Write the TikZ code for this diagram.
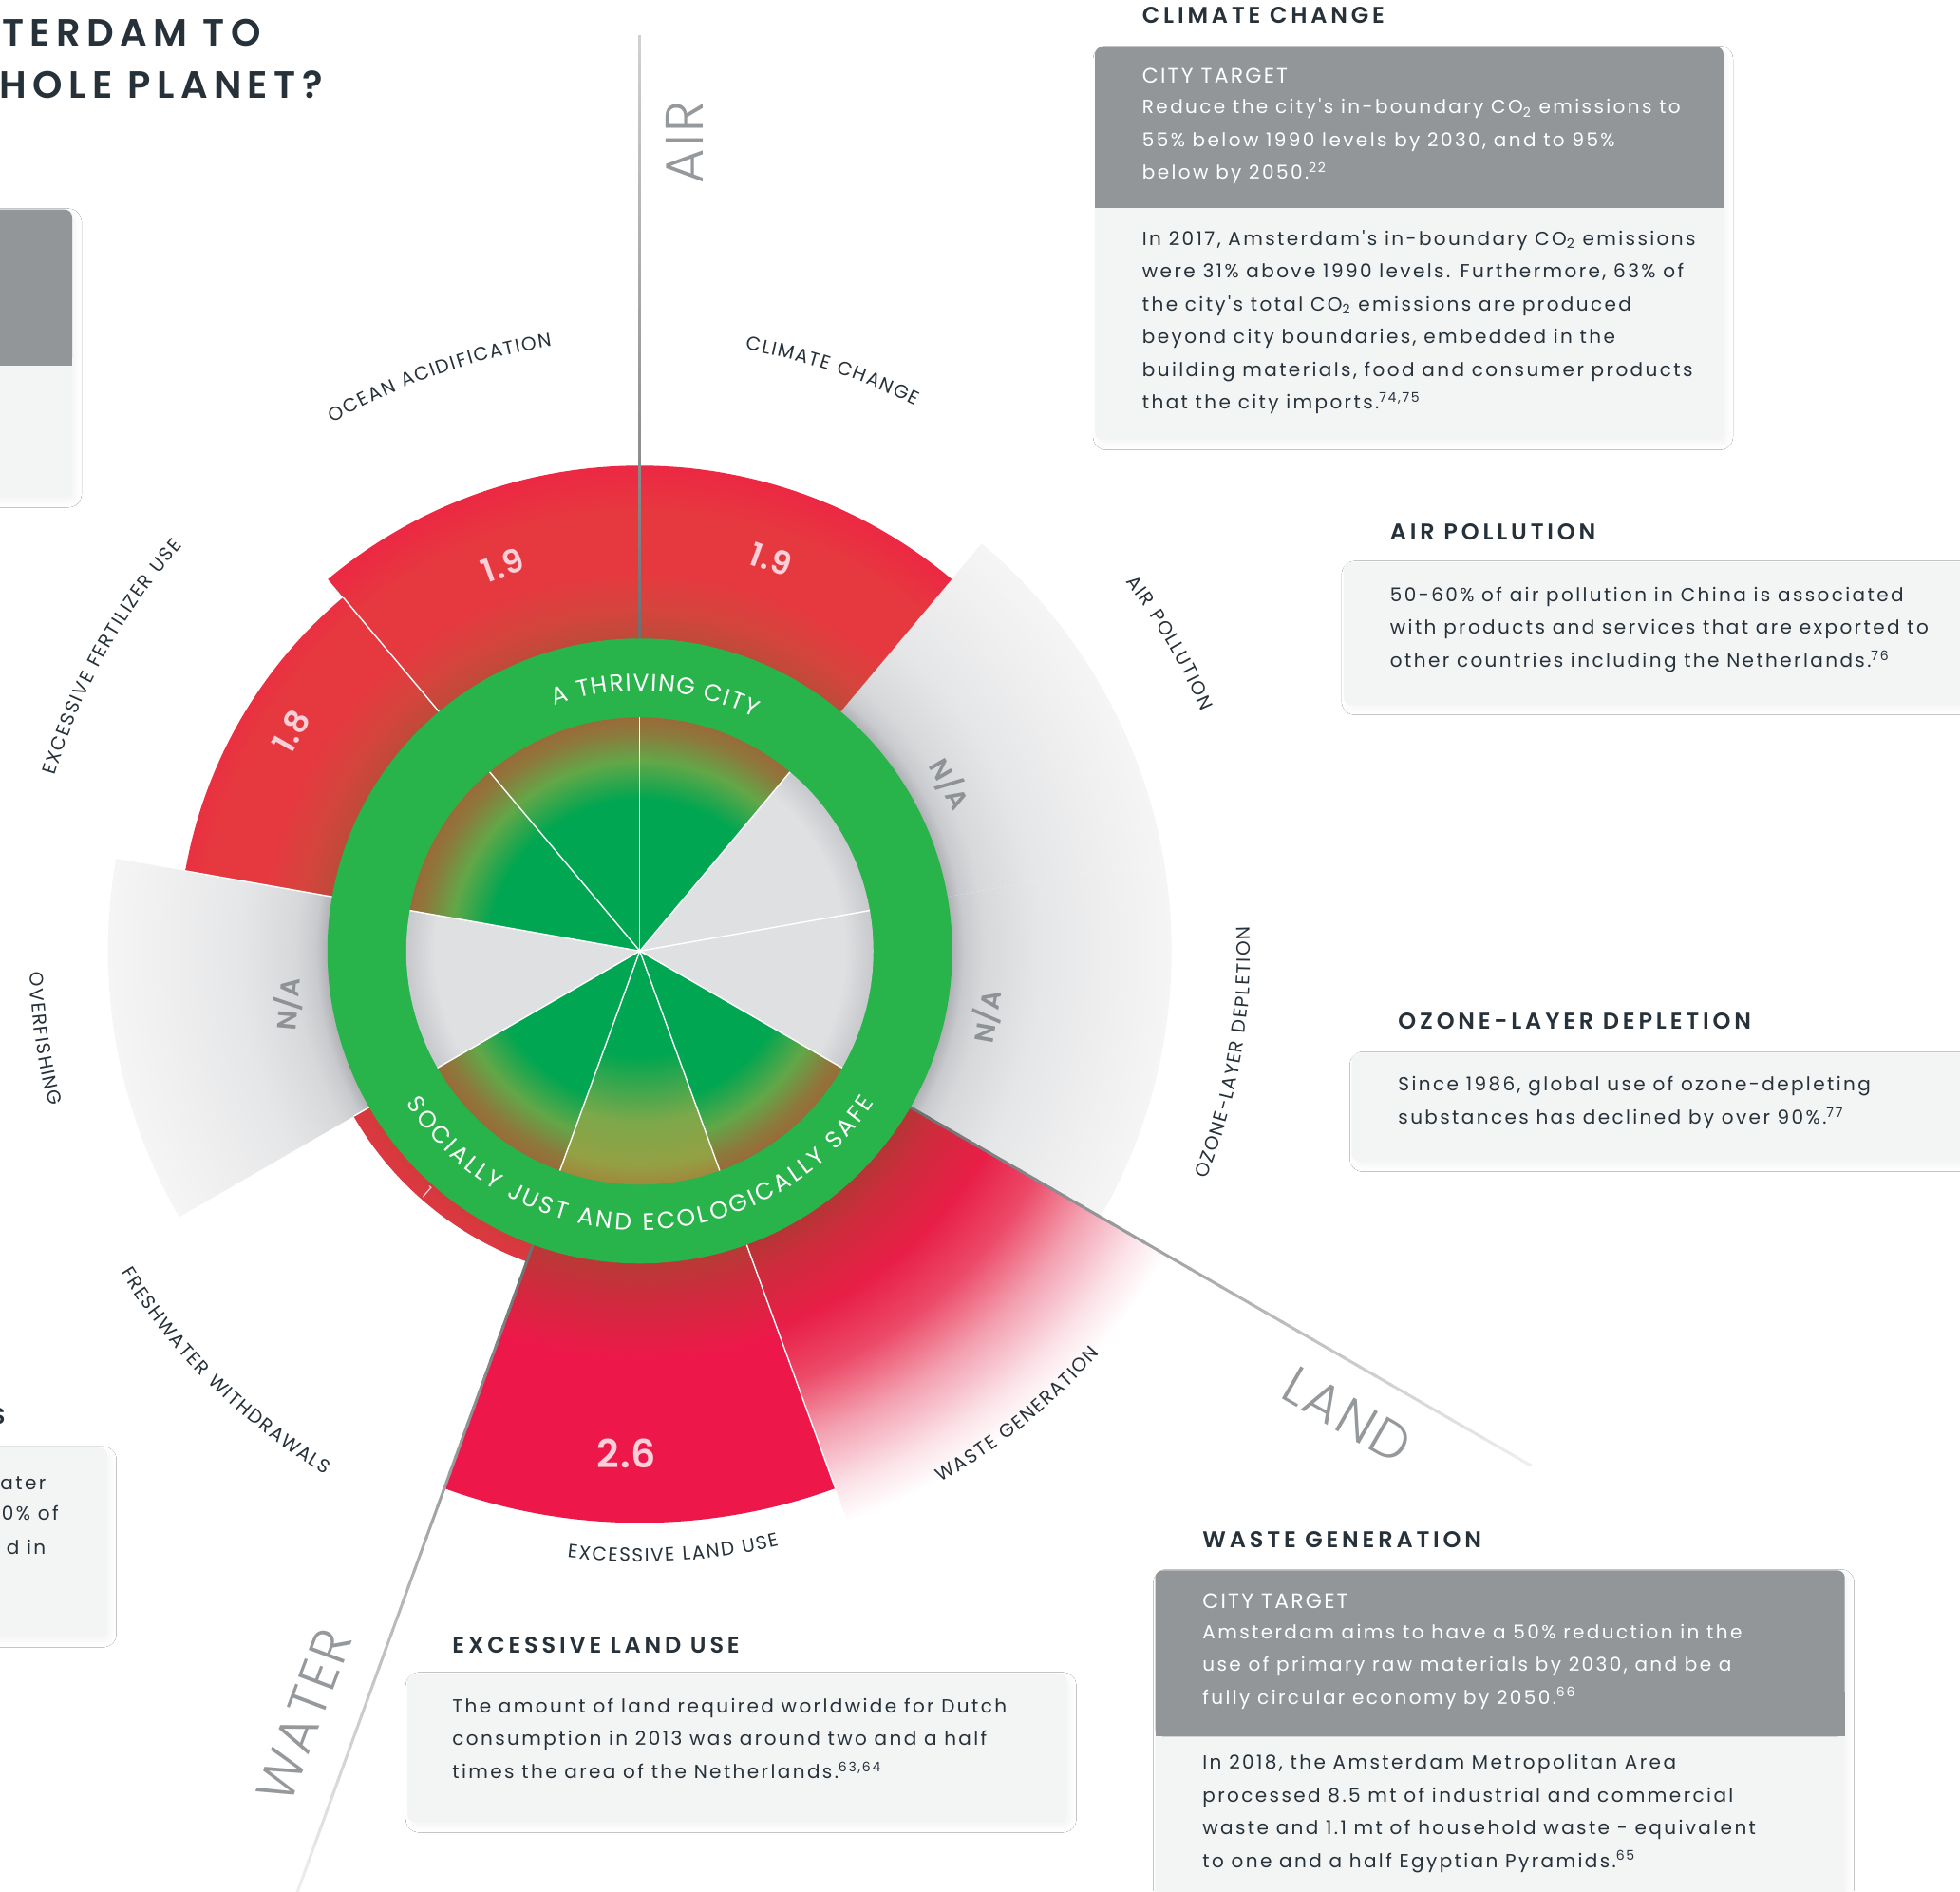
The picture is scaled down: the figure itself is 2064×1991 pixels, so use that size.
\documentclass[tikz,border=0pt]{standalone}
\usepackage{fontspec}
\usepackage{xcolor}
\usetikzlibrary{decorations.text, shadows.blur}

% fonts
\setmainfont{Poppins}
\newfontfamily\bodyfont[LetterSpace=12]{Poppins}
\newfontfamily\lblfont[LetterSpace=10]{Poppins}
\newfontfamily\arcfont{Poppins}
\IfFontExistsTF{Poppins SemiBold}{%
  \newfontfamily\headfont[LetterSpace=16]{Poppins SemiBold}%
  \newfontfamily\titlefont[LetterSpace=16]{Poppins SemiBold}%
  \newfontfamily\numfont[LetterSpace=2]{Poppins SemiBold}%
}{%
  \newfontfamily\headfont[LetterSpace=16,FakeBold=1.2]{Poppins}%
  \newfontfamily\titlefont[LetterSpace=16,FakeBold=1.2]{Poppins}%
  \newfontfamily\numfont[LetterSpace=2,FakeBold=1.2]{Poppins}%
}
\IfFontExistsTF{Poppins Light}{%
  \newfontfamily\thinfont[LetterSpace=4]{Poppins Light}%
}{%
  \newfontfamily\thinfont[LetterSpace=4]{Poppins}%
}
% letters on arcs are boxed one by one, so the tracking is a kern
\newcommand\ringsize{\arcfont\fontsize{12.5pt}{14pt}\selectfont\kern0.73pt}
\newcommand\ringwide{\arcfont\fontsize{12.5pt}{14pt}\selectfont\kern1.45pt}
\newcommand\lblsize{\arcfont\fontsize{10pt}{12pt}\selectfont\kern0.8pt}

% colours
\definecolor{inktext}{RGB}{38,49,58}
\definecolor{targetgray}{RGB}{147,150,153}
\definecolor{notegray}{RGB}{243,244,244}
\definecolor{ringgreen}{RGB}{40,179,75}
\definecolor{nagraytext}{RGB}{142,146,150}
\definecolor{pinkvalue}{RGB}{249,207,217}
\definecolor{axisgray}{RGB}{150,153,156}
\definecolor{axisdark}{RGB}{110,112,114}
\definecolor{axislight}{RGB}{210,210,210}
\definecolor{axisfade}{RGB}{240,240,240}
% red sectors
\definecolor{redA}{RGB}{190,74,58}
\definecolor{redB}{RGB}{213,68,61}
\definecolor{redC}{RGB}{230,57,63}
\definecolor{redD}{RGB}{236,40,67}
\definecolor{landA}{RGB}{184,58,54}
\definecolor{landB}{RGB}{208,42,62}
\definecolor{landC}{RGB}{237,24,73}
\definecolor{wasteA}{RGB}{181,53,53}
\definecolor{wasteB}{RGB}{206,44,60}
\definecolor{wasteC}{RGB}{232,30,71}
\definecolor{wasteD}{RGB}{236,74,104}
\definecolor{wasteE}{RGB}{243,160,176}
\definecolor{wasteF}{RGB}{251,226,232}
\definecolor{freshA}{RGB}{210,58,60}
\definecolor{freshB}{RGB}{222,55,65}
% grey sectors
\definecolor{naA}{RGB}{176,178,181}
\definecolor{naB}{RGB}{200,202,205}
\definecolor{naC}{RGB}{215,216,218}
\definecolor{naD}{RGB}{229,230,231}
\definecolor{naE}{RGB}{239,239,240}
\definecolor{naF}{RGB}{245,245,246}
\definecolor{coreGray}{RGB}{223,224,226}
\definecolor{coreGrayEdge}{RGB}{198,200,203}
% green core
\definecolor{leafgreen}{RGB}{0,166,81}
\definecolor{leafmid}{RGB}{98,167,72}
\definecolor{leafolive}{RGB}{140,122,60}
\definecolor{leafbrown}{RGB}{154,106,56}
\definecolor{landleafA}{RGB}{125,168,74}
\definecolor{landleafB}{RGB}{148,160,68}
\definecolor{landleafC}{RGB}{160,136,60}

% radial shadings, drawn on a circle of radius 700 (25bp = 700 units)
\pgfdeclareradialshading{redshade}{\pgfpoint{0bp}{0bp}}{color(0bp)=(redA); color(11.75bp)=(redA);
  color(12.85bp)=(redB); color(14.3bp)=(redC); color(16.45bp)=(redC); color(18.25bp)=(redD); color(50bp)=(redD)}
\pgfdeclareradialshading{landshade}{\pgfpoint{0bp}{0bp}}{color(0bp)=(landA); color(11.75bp)=(landA);
  color(13.2bp)=(landB); color(15.35bp)=(landC); color(50bp)=(landC)}
\pgfdeclareradialshading{wasteshade}{\pgfpoint{0bp}{0bp}}{color(0bp)=(wasteA); color(11.75bp)=(wasteA);
  color(12.85bp)=(wasteB); color(15bp)=(wasteC); color(17.15bp)=(wasteD); color(19.3bp)=(wasteE);
  color(21.45bp)=(wasteF); color(22.85bp)=(white); color(50bp)=(white)}
\pgfdeclareradialshading{freshshade}{\pgfpoint{0bp}{0bp}}{color(0bp)=(freshA); color(11.75bp)=(freshA);
  color(12.45bp)=(freshB); color(50bp)=(freshB)}
\pgfdeclareradialshading{nashade}{\pgfpoint{0bp}{0bp}}{color(0bp)=(naA); color(11.75bp)=(naA);
  color(12.2bp)=(naB); color(12.95bp)=(naC); color(15bp)=(naD); color(17.85bp)=(naE); color(20bp)=(naF); color(50bp)=(naF)}
\pgfdeclareradialshading{greenshade}{\pgfpoint{0bp}{0bp}}{color(0bp)=(leafgreen); color(5.7bp)=(leafgreen);
  color(7.15bp)=(leafmid); color(8.2bp)=(leafolive); color(8.8bp)=(leafbrown); color(50bp)=(leafbrown)}
\pgfdeclareradialshading{landgreen}{\pgfpoint{0bp}{0bp}}{color(0bp)=(leafgreen); color(3.95bp)=(leafgreen);
  color(6.45bp)=(landleafA); color(8.05bp)=(landleafB); color(8.8bp)=(landleafC); color(50bp)=(landleafC)}
\pgfdeclareradialshading{coreshade}{\pgfpoint{0bp}{0bp}}{color(0bp)=(coreGray); color(7.7bp)=(coreGray);
  color(8.8bp)=(coreGrayEdge); color(50bp)=(coreGrayEdge)}

% curved sector labels: centre angle, text
\newcommand\toparc[2]{%
  \path[decorate, decoration={text along path, text align=center, text color=inktext,
    text={|\lblsize|#2}}] (#1+60:643) arc[start angle=#1+60, end angle=#1-60, radius=643];}
\newcommand\bottomarc[2]{%
  \path[decorate, decoration={text along path, text align=center, text color=inktext,
    text={|\lblsize|#2}}] (#1-60:643) arc[start angle=#1-60, end angle=#1+60, radius=643];}

\begin{document}
\begin{tikzpicture}[x=0.5pt, y=0.5pt,
    % multi-line notes are placed by the baseline of their last line
    bodytext/.style={font=\bodyfont\fontsize{10pt}{17.25pt}\selectfont, text=inktext,
      align=left, inner sep=0pt, anchor=base west},
    targettext/.style={bodytext, text=white},
    targethead/.style={font=\lblfont\fontsize{11pt}{13pt}\selectfont, text=white,
      inner sep=0pt, anchor=base west},
    headtext/.style={font=\headfont\fontsize{12pt}{14pt}\selectfont, text=inktext,
      inner sep=0pt, anchor=base west},
    titletext/.style={font=\titlefont\fontsize{20pt}{24pt}\selectfont, text=inktext,
      inner sep=0pt, anchor=base east},
    cuttext/.style={bodytext, anchor=base east},
    notebox/.style={fill=notegray, rounded corners=4pt,
      blur shadow={shadow xshift=2pt, shadow yshift=-2.5pt, shadow blur radius=3pt, shadow opacity=4}},
    navalue/.style={font=\numfont\fontsize{14pt}{16pt}\selectfont, text=nagraytext, inner sep=0pt},
    redvalue/.style={font=\numfont\fontsize{17pt}{19pt}\selectfont, text=pinkvalue, inner sep=0pt},
    axisword/.style={font=\thinfont\fontsize{28pt}{30pt}\selectfont, text=axisgray, inner sep=0pt},
    wedgesep/.style={white, line width=0.7pt},
    spoke/.style={white, line width=0.7pt}
  ]
  \useasboundingbox (0,0) rectangle (2064,1991);
  \fill[white] (0,0) rectangle (2064,1991);

  % Doughnut centre
  \coordinate (C) at (673.75,989.7);

  \begin{scope}[shift={(C)}]
    % outer sectors: start angle / end angle / radius / shading
    \foreach \sa/\sb/\sr/\sshade in {50/10/560/nashade, 10/-30/560/nashade, -150/-190/560/nashade,
        -30/-70/640/wasteshade, 90/50/511/redshade, 130/90/511/redshade, 170/130/486/redshade,
        -70/-110/602/landshade, -110/-150/348/freshshade}{
      \begin{scope}
        \clip (0,0) -- (\sa:\sr) arc[start angle=\sa, end angle=\sb, radius=\sr] -- cycle;
        \shade[shading=\sshade] (0,0) circle[radius=700];
      \end{scope}
    }
    % thin white gaps between red sectors
    \foreach \st/\sr in {130/486, 170/486, -70/602, -150/348}
      \draw[wedgesep] (\st:329) -- (\st:\sr);

    % axis lines (AIR, LAND, WATER), dark near the doughnut and fading outwards
    \foreach \st/\sr/\se in {90/961/axislight, -30/1080/axisfade, -110/1054/axisfade}{
      \foreach \i in {0,...,39}{
        \pgfmathsetmacro\ra{329+(\sr-329)/40*\i}
        \pgfmathsetmacro\rb{329+(\sr-329)/40*(\i+1.2)}
        \pgfmathsetmacro\p{100-2.5*\i}
        \draw[line width=1.5pt, axisdark!\p!\se] (\st:\ra) -- (\st:\rb);
      }
    }

    % green ring
    \fill[ringgreen] (0,0) circle[radius=329];
    % inner sectors
    \foreach \sa/\sb/\sshade in {90/50/greenshade, 50/10/coreshade, 10/-30/coreshade,
        -30/-70/greenshade, -70/-110/landgreen, -110/-150/greenshade, -150/-190/coreshade,
        170/130/greenshade, 130/90/greenshade}{
      \begin{scope}
        \clip (0,0) -- (\sa:246) arc[start angle=\sa, end angle=\sb, radius=246] -- cycle;
        \shade[shading=\sshade] (0,0) circle[radius=700];
      \end{scope}
    }
    \foreach \st in {90,50,...,-230}
      \draw[spoke] (0,0) -- (\st:246);

    % ring texts
    \path[decorate, decoration={text along path, text align=center, text color=white,
        text={|\ringsize|A THRIVING CITY}}]
      (166.7:274) arc[start angle=166.7, end angle=6.7, radius=274];
    \path[decorate, decoration={text along path, text align=center, text color=white,
        text={|\ringwide|SOCIALLY JUST AND ECOLOGICALLY SAFE}}]
      (-170.2:294) arc[start angle=-170.2, end angle=-10.2, radius=294];

    % sector names
    \toparc{109.3}{OCEAN ACIDIFICATION}
    \toparc{71.7}{CLIMATE CHANGE}
    \toparc{30.2}{AIR POLLUTION}
    \toparc{151}{EXCESSIVE FERTILIZER USE}
    \bottomarc{-9.9}{OZONE-LAYER DEPLETION}
    \bottomarc{-50.9}{WASTE GENERATION}
    \bottomarc{-86.9}{EXCESSIVE LAND USE}
    \bottomarc{-134.7}{FRESHWATER WITHDRAWALS}
    \bottomarc{-171.7}{OVERFISHING}

    % values
    \node[redvalue, rotate=20] (vocean) at (109.6:431) {1.9};
    \node[redvalue, rotate=-20] (vclimate) at (71.5:435) {1.9};
    \node[redvalue, rotate=60] (vfert) at (147.8:434) {1.8};
    \node[redvalue, font=\numfont\fontsize{20.5pt}{22pt}\selectfont] (vland) at (-91.5:529) {2.6};
    \node[font=\thinfont\fontsize{9.5pt}{11pt}\selectfont, text=pinkvalue, inner sep=0pt,
      rotate=-41] (vfresh) at (-131.4:339) {1};
    \node[navalue, rotate=-60] (naair) at (28.3:371) {N/A};
    \node[navalue, rotate=80] (naozone) at (-10.7:372) {N/A};
    \node[navalue, rotate=85] (nafish) at (-171.5:375) {N/A};
  \end{scope}

  % axis names
  \node[axisword, rotate=90] (airword) at (721,1841) {AIR};
  \node[axisword, rotate=-30] (landword) at (1419,501) {LAND};
  \node[axisword, rotate=69.4] (waterword) at (320,185) {WATER};

  % title (cut at the left edge)
  \node[titletext] (title1) at (275,1942.7) {TERDAM TO};
  \node[titletext] (title2) at (340,1887.7) {HOLE PLANET?};

  % left notes, cut at the edge
  \path[notebox] (-30,1467.7) rectangle (76,1770.3);
  \fill[targetgray, rounded corners=4pt] (-30,1606) rectangle (76,1770.3);
  \fill[targetgray] (-30,1606) rectangle (76,1650);
  \path[notebox] (-30,267.7) rectangle (112.7,467);
  \node[headtext, anchor=base east] (fwhead) at (6,491) {S};
  \node[cuttext] (fwline1) at (48.7,422.7) {ater};
  \node[cuttext] (fwline2) at (62,391) {0\% of};
  \node[cuttext] (fwline3) at (48.7,355) {d in};

  % climate change note
  \node[headtext] (cchead) at (1202.5,1966) {CLIMATE CHANGE};
  \path[notebox] (1153,1528.3) rectangle (1815,1941.7);
  \fill[targetgray, rounded corners=4pt] (1153,1772) rectangle (1815,1941.7);
  \fill[targetgray] (1153,1772) rectangle (1815,1820);
  \node[targethead] (cctarget) at (1202.5,1903.7) {CITY TARGET};
  \node[targettext] (cctargettext) at (1202.5,1802) {Reduce the city's in-boundary CO\textsubscript{2} emissions to\\
    55\% below 1990 levels by 2030, and to 95\%\\below by 2050.\textsuperscript{22}};
  \node[bodytext] (ccbody) at (1202.5,1560.3) {In 2017, Amsterdam's in-boundary CO\textsubscript{2} emissions\\
    were 31\% above 1990 levels. Furthermore, 63\% of\\
    the city's total CO\textsubscript{2} emissions are produced\\
    beyond city boundaries, embedded in the\\
    building materials, food and consumer products\\
    that the city imports.\textsuperscript{74,75}};

  % air pollution note
  \node[headtext] (aphead) at (1463.5,1422.7) {AIR POLLUTION};
  \path[notebox] (1414.8,1249.3) rectangle (2110,1399.3);
  \node[bodytext] (apbody) at (1463.5,1288.7) {50-60\% of air pollution in China is associated\\
    with products and services that are exported to\\
    other countries including the Netherlands.\textsuperscript{76}};

  % ozone note
  \node[headtext] (ozhead) at (1472,907.7) {OZONE-LAYER DEPLETION};
  \path[notebox] (1423.3,768.3) rectangle (2110,882.7);
  \node[bodytext] (ozbody) at (1472,807.7) {Since 1986, global use of ozone-depleting\\
    substances has declined by over 90\%.\textsuperscript{77}};

  % waste note
  \node[headtext] (wghead) at (1266,361.7) {WASTE GENERATION};
  \path[notebox] (1216.5,-40) rectangle (1942.7,337.7);
  \fill[targetgray, rounded corners=4pt] (1216.5,162.7) rectangle (1942.7,337.7);
  \fill[targetgray] (1216.5,162.7) rectangle (1942.7,210);
  \node[targethead] (wgtarget) at (1266,297.7) {CITY TARGET};
  \node[targettext] (wgtargettext) at (1266,197) {Amsterdam aims to have a 50\% reduction in the\\
    use of primary raw materials by 2030, and be a\\
    fully circular economy by 2050.\textsuperscript{66}};
  \node[bodytext] (wgbody) at (1266,25) {In 2018, the Amsterdam Metropolitan Area\\
    processed 8.5 mt of industrial and commercial\\
    waste and 1.1 mt of household waste - equivalent\\
    to one and a half Egyptian Pyramids.\textsuperscript{65}};

  % land use note
  \node[headtext] (luhead) at (476,251) {EXCESSIVE LAND USE};
  \path[notebox] (429.2,72.7) rectangle (1123.4,229.3);
  \node[bodytext] (lubody) at (476,118.7) {The amount of land required worldwide for Dutch\\
    consumption in 2013 was around two and a half\\
    times the area of the Netherlands.\textsuperscript{63,64}};
\end{tikzpicture}
\end{document}
